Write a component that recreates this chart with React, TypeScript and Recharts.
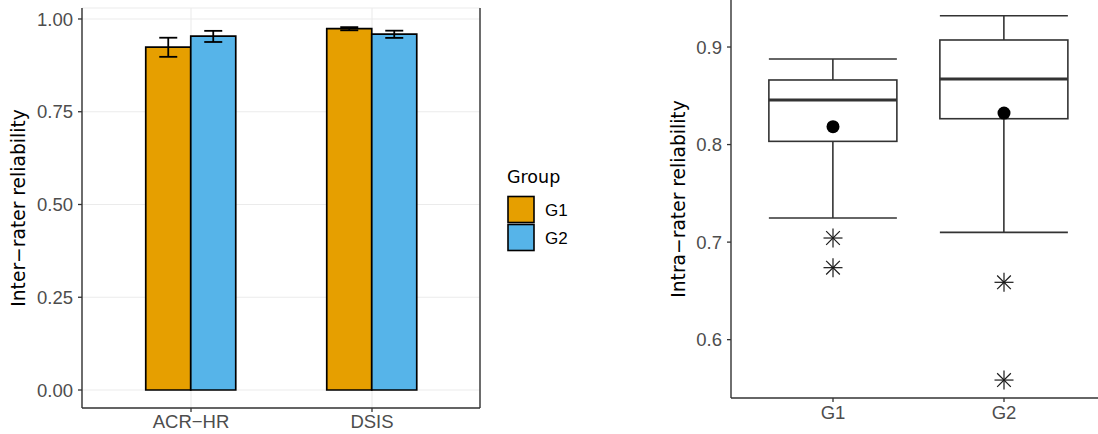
import React from 'react';
import { ComposedChart, BarChart, Bar, XAxis, YAxis, CartesianGrid, ErrorBar, Scatter } from 'recharts';

// left panel: inter-rater reliability per method and group
const methods = ['ACR−HR', 'DSIS'];
const groups = ['G1', 'G2'];
const groupColors = ['#E69F00', '#56B4E9'];
const g1Mean = [0.924, 0.974];
const g1Low = [0.898, 0.9695];
const g1High = [0.9495, 0.978];
const g2Mean = [0.954, 0.959];
const g2Low = [0.938, 0.949];
const g2High = [0.968, 0.9685];
const interTicks = [0, 0.25, 0.5, 0.75, 1];

// right panel: intra-rater reliability boxplots
const whiskerLow = [0.7247, 0.71];
const q1 = [0.8033, 0.8265];
const median = [0.8457, 0.8672];
const q3 = [0.8662, 0.9072];
const whiskerHigh = [0.8877, 0.9321];
const means = [0.8183, 0.8323];
const outliers = [[0.7042, 0.6738], [0.6588, 0.5586]];
const intraTicks = [0.6, 0.7, 0.8, 0.9];

const TITLE_FONT = '"DejaVu Sans", sans-serif';
const FONT = '"Liberation Sans", Arial, sans-serif';
const AXIS = '#333333';
const TICK_TEXT = '#4D4D4D';

const interData = methods.map((m, i) => ({
  method: m,
  g1: g1Mean[i],
  g2: g2Mean[i],
  g1Err: [g1Mean[i] - g1Low[i], g1High[i] - g1Mean[i]],
  g2Err: [g2Mean[i] - g2Low[i], g2High[i] - g2Mean[i]],
}));

const intraData = groups.map((g, i) => ({
  group: g,
  range: [whiskerLow[i], whiskerHigh[i]],
  whiskerLow: whiskerLow[i],
  whiskerHigh: whiskerHigh[i],
  q1: q1[i],
  median: median[i],
  q3: q3[i],
  mean: means[i],
  out1: outliers[i][0],
  out2: outliers[i][1],
}));

const tickStyle = { fill: TICK_TEXT, fontSize: 18.5, fontFamily: FONT };

const rotatedTitle = (text: string, dx: number) => (p: any) => {
  const vb = p.viewBox || {};
  const x = (vb.x || 0) + dx;
  const cy = (vb.y || 0) + (vb.height || 0) / 2;
  return (
    <text x={x} y={cy} transform={`rotate(-90 ${x} ${cy})`} textAnchor="middle"
      fill="#000" fontSize={18.7} fontFamily={TITLE_FONT}>
      {text}
    </text>
  );
};

// box + whiskers drawn inside the whisker range bar, so every y comes from the bar's own scale
const BoxShape = (props: any) => {
  const { x, y, width, height, payload } = props;
  const top = Math.min(y, y + height);
  const h = Math.abs(height);
  const lo = payload.whiskerLow;
  const hi = payload.whiskerHigh;
  const py = (v: number) => top + ((hi - v) / (hi - lo)) * h;
  const cx = x + width / 2;
  const s = { stroke: AXIS, strokeWidth: 1.6, fill: 'none' };
  return (
    <g>
      <line x1={cx} x2={cx} y1={py(hi)} y2={py(payload.q3)} {...s} />
      <line x1={cx} x2={cx} y1={py(payload.q1)} y2={py(lo)} {...s} />
      <line x1={x} x2={x + width} y1={py(hi)} y2={py(hi)} {...s} />
      <line x1={x} x2={x + width} y1={py(lo)} y2={py(lo)} {...s} />
      <rect x={x} y={py(payload.q3)} width={width} height={py(payload.q1) - py(payload.q3)} {...s} />
      <line x1={x} x2={x + width} y1={py(payload.median)} y2={py(payload.median)} stroke={AXIS} strokeWidth={3} />
    </g>
  );
};

const MeanDot = (p: any) => <circle cx={p.cx} cy={p.cy} r={6.5} fill="#000" />;

const Asterisk = (p: any) => {
  const r = 9.5;
  const d = r * 0.72;
  const s = { stroke: '#1a1a1a', strokeWidth: 1.2 };
  return (
    <g>
      <line x1={p.cx - r} x2={p.cx + r} y1={p.cy} y2={p.cy} {...s} />
      <line x1={p.cx} x2={p.cx} y1={p.cy - r} y2={p.cy + r} {...s} />
      <line x1={p.cx - d} x2={p.cx + d} y1={p.cy - d} y2={p.cy + d} {...s} />
      <line x1={p.cx - d} x2={p.cx + d} y1={p.cy + d} y2={p.cy - d} {...s} />
    </g>
  );
};

function InterChart() {
  return (
    <BarChart width={481} height={434} data={interData} margin={{ top: 8, right: 0, bottom: 0, left: 0 }}
      barCategoryGap="25%" barGap={0}>
      <CartesianGrid stroke="#EBEBEB" strokeWidth={1.1} />
      <XAxis dataKey="method" height={26} padding={{ left: 18.5, right: 17.5 }} tickSize={4} tickMargin={3}
        axisLine={{ stroke: AXIS, strokeWidth: 1.4 }} tickLine={{ stroke: AXIS, strokeWidth: 1.3 }} tick={tickStyle} />
      <XAxis xAxisId="top" dataKey="method" orientation="top" height={0} tick={false} tickLine={false}
        axisLine={{ stroke: AXIS, strokeWidth: 1.4 }} />
      <YAxis width={82} domain={[-0.0485, 1.0296]} ticks={interTicks} allowDataOverflow
        tickFormatter={(v: number) => v.toFixed(2)} tickSize={4} tickMargin={5}
        axisLine={{ stroke: AXIS, strokeWidth: 1.4 }} tickLine={{ stroke: AXIS, strokeWidth: 1.3 }} tick={tickStyle}
        label={rotatedTitle('Inter−rater reliability', 25)} />
      <YAxis yAxisId="right" orientation="right" width={1} domain={[-0.0485, 1.0296]} tick={false} tickLine={false}
        axisLine={{ stroke: AXIS, strokeWidth: 1.4 }} />
      <Bar dataKey="g1" name={groups[0]} fill={groupColors[0]} stroke="#000" strokeWidth={1.7} isAnimationActive={false}>
        <ErrorBar dataKey="g1Err" width={9} stroke="#000" strokeWidth={1.8} direction="y" isAnimationActive={false} />
      </Bar>
      <Bar dataKey="g2" name={groups[1]} fill={groupColors[1]} stroke="#000" strokeWidth={1.7} isAnimationActive={false}>
        <ErrorBar dataKey="g2Err" width={9} stroke="#000" strokeWidth={1.8} direction="y" isAnimationActive={false} />
      </Bar>
    </BarChart>
  );
}

function GroupLegend() {
  return (
    <svg width={100} height={110} style={{ position: 'absolute', left: 500, top: 160 }}>
      <text x={7} y={23} fontSize={17.5} fontFamily={TITLE_FONT} fill="#000">Group</text>
      {groups.map((g, i) => (
        <g key={g}>
          <rect x={8} y={36.5 + i * 28} width={26} height={26} fill={groupColors[i]} stroke="#000" strokeWidth={1.6} />
          <text x={45} y={55.8 + i * 28} fontSize={17} fontFamily={FONT} fill="#000">{g}</text>
        </g>
      ))}
    </svg>
  );
}

function IntraChart() {
  return (
    <ComposedChart width={498} height={434} data={intraData} margin={{ top: 0, right: 0, bottom: 0, left: 0 }}
      barCategoryGap="12.5%">
      <XAxis dataKey="group" height={36} padding={{ left: 16.5, right: 8.5 }} tickSize={4} tickMargin={4}
        axisLine={{ stroke: AXIS, strokeWidth: 1.4 }} tickLine={{ stroke: AXIS, strokeWidth: 1.3 }} tick={tickStyle} />
      <YAxis width={131} domain={[0.5402, 0.9482]} ticks={intraTicks} allowDataOverflow
        tickFormatter={(v: number) => v.toFixed(1)} tickSize={4} tickMargin={5}
        axisLine={{ stroke: AXIS, strokeWidth: 1.4 }} tickLine={{ stroke: AXIS, strokeWidth: 1.3 }} tick={tickStyle}
        label={rotatedTitle('Intra−rater reliability', 85)} />
      <Bar dataKey="range" shape={<BoxShape />} isAnimationActive={false} />
      <Scatter dataKey="mean" shape={<MeanDot />} isAnimationActive={false} />
      <Scatter dataKey="out1" shape={<Asterisk />} isAnimationActive={false} />
      <Scatter dataKey="out2" shape={<Asterisk />} isAnimationActive={false} />
    </ComposedChart>
  );
}

export default function App() {
  return (
    <div style={{ position: 'absolute', left: 0, top: 0, width: 1098, height: 434, background: '#fff', overflow: 'hidden' }}>
      <div style={{ position: 'absolute', left: 0, top: 0 }}>
        <InterChart />
      </div>
      <GroupLegend />
      <div style={{ position: 'absolute', left: 600, top: 0 }}>
        <IntraChart />
      </div>
    </div>
  );
}
